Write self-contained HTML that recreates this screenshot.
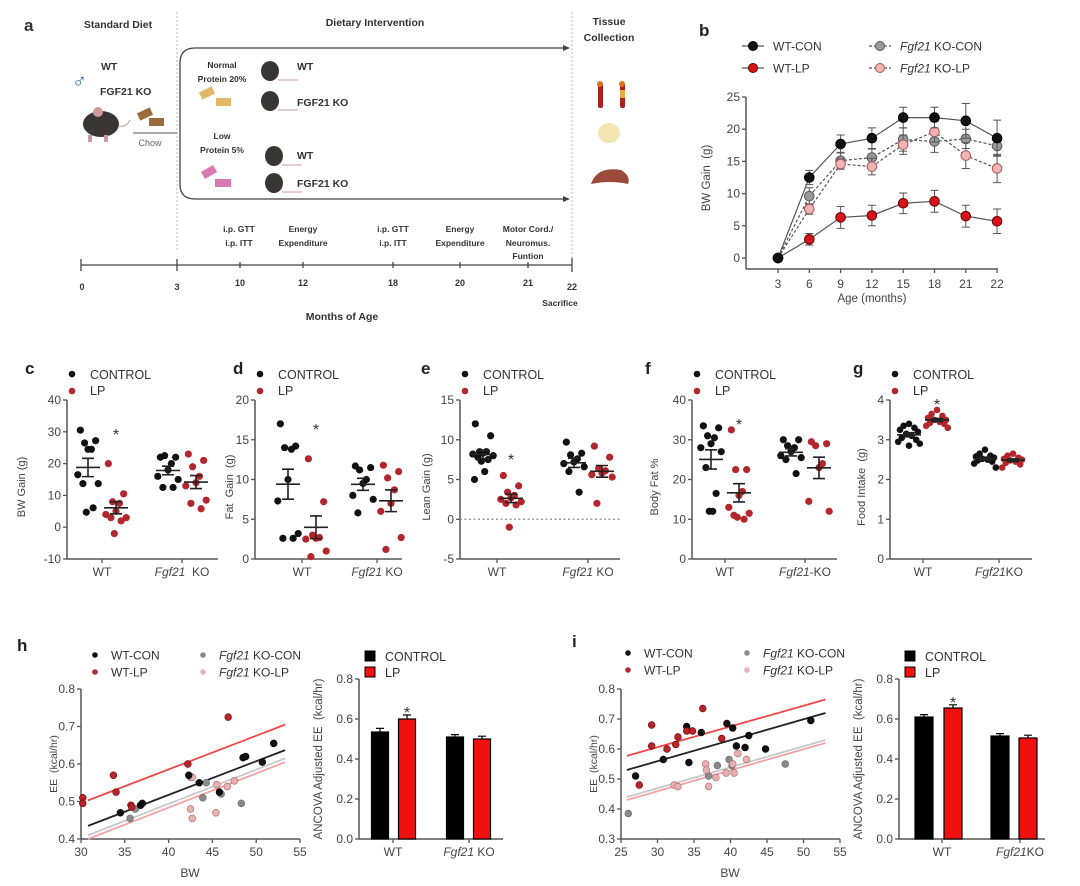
<!DOCTYPE html>
<html><head><meta charset="utf-8"><style>
html,body{margin:0;padding:0;background:#fff}
svg{display:block;font-family:"Liberation Sans",sans-serif}
</style></head><body>
<svg id="fig" width="1080" height="886" viewBox="0 0 1080 886">
<!-- Panel a: schematic -->
<g id="pa" fill="#333">
  <text x="24" y="31" font-size="17" font-weight="bold">a</text>
  <text x="118" y="28" font-size="10.5" font-weight="bold" text-anchor="middle">Standard Diet</text>
  <text x="375" y="26" font-size="10.5" font-weight="bold" text-anchor="middle">Dietary Intervention</text>
  <text x="609" y="25" font-size="10.5" font-weight="bold" text-anchor="middle">Tissue</text>
  <text x="609" y="41" font-size="10.5" font-weight="bold" text-anchor="middle">Collection</text>
  <line x1="177" y1="12" x2="177" y2="250" stroke="#bbb" stroke-dasharray="2,2"/>
  <line x1="572" y1="12" x2="572" y2="262" stroke="#bbb" stroke-dasharray="2,2"/>
  <path d="M566,48 H195 Q180,48 180,63 V184 Q180,199 195,199 H566" fill="none" stroke="#444" stroke-width="1.3"/>
  <polygon points="570,48 563,45 563,51" fill="#444"/>
  <polygon points="570,199 563,196 563,202" fill="#444"/>
  <text x="72" y="88" font-size="20" fill="#3a6ab0">♂</text>
  <text x="101" y="70" font-size="10.5" font-weight="bold">WT</text>
  <text x="100" y="95" font-size="10.5" font-weight="bold">FGF21 KO</text>
  <g>
    <ellipse cx="101" cy="124" rx="18" ry="13" fill="#3a3535"/><circle cx="98" cy="112" r="5" fill="#c99"/><path d="M118,126 q8,2 12,-6" stroke="#c99" fill="none"/>
    <rect x="88" y="135" width="4" height="7" fill="#c99"/><rect x="104" y="135" width="4" height="7" fill="#c99"/>
  </g>
  <rect x="138" y="110" width="14" height="8" fill="#9b6a3a" transform="rotate(-25 145 114)"/>
  <rect x="149" y="118" width="15" height="8" fill="#9b6a3a"/>
  <line x1="133" y1="133" x2="177" y2="133" stroke="#555"/>
  <text x="150" y="146" font-size="9" fill="#666" text-anchor="middle">Chow</text>
  <text x="222" y="68" font-size="8.5" font-weight="bold" text-anchor="middle">Normal</text>
  <text x="222" y="82" font-size="8.5" font-weight="bold" text-anchor="middle">Protein 20%</text>
  <rect x="200" y="89" width="14" height="8" fill="#e2b76a" transform="rotate(-25 207 93)"/>
  <rect x="216" y="98" width="15" height="8" fill="#e2b76a"/>
  <text x="222" y="139" font-size="8.5" font-weight="bold" text-anchor="middle">Low</text>
  <text x="222" y="153" font-size="8.5" font-weight="bold" text-anchor="middle">Protein 5%</text>
  <rect x="202" y="168" width="14" height="8" fill="#d77ab0" transform="rotate(-30 209 172)"/>
  <rect x="215" y="179" width="16" height="8" fill="#d77ab0"/>
  <g fill="#3a3535">
    <ellipse cx="270" cy="71" rx="9" ry="10"/><ellipse cx="270" cy="101" rx="9" ry="10"/><ellipse cx="274" cy="156" rx="9" ry="10"/><ellipse cx="274" cy="183" rx="9" ry="10"/>
  </g>
  <g stroke="#c99" fill="none">
    <path d="M278,80 h20"/><path d="M278,110 h20"/><path d="M282,165 h20"/><path d="M282,192 h20"/>
  </g>
  <text x="297" y="70" font-size="10.5" font-weight="bold">WT</text>
  <text x="297" y="106" font-size="10.5" font-weight="bold">FGF21 KO</text>
  <text x="297" y="159" font-size="10.5" font-weight="bold">WT</text>
  <text x="297" y="187" font-size="10.5" font-weight="bold">FGF21 KO</text>
  <g>
    <rect x="598" y="84" width="5" height="24" rx="2" fill="#a82020"/><rect x="620" y="84" width="5" height="24" rx="2" fill="#a82020"/>
    <rect x="620" y="90" width="5" height="8" fill="#e0b040"/>
    <circle cx="600" cy="84" r="3" fill="#e07020"/><circle cx="622" cy="84" r="3" fill="#e07020"/>
    <ellipse cx="609" cy="133" rx="11" ry="10" fill="#f4e6b0"/>
    <path d="M591,184 q6,-18 30,-14 q10,6 7,14 q-18,-4 -37,0z" fill="#9c4a3a"/>
  </g>
  <line x1="81" y1="265" x2="572" y2="265" stroke="#444" stroke-width="1.3"/>
  <g stroke="#444" stroke-width="1.3">
    <line x1="81" y1="259" x2="81" y2="271"/><line x1="177" y1="259" x2="177" y2="271"/><line x1="240" y1="262" x2="240" y2="268"/><line x1="303" y1="262" x2="303" y2="268"/><line x1="393" y1="262" x2="393" y2="268"/><line x1="460" y1="262" x2="460" y2="268"/><line x1="528" y1="262" x2="528" y2="268"/><line x1="572" y1="258" x2="572" y2="272"/>
  </g>
  <g font-size="9" font-weight="bold" text-anchor="middle">
    <text x="82" y="290">0</text><text x="177" y="290">3</text><text x="240" y="286">10</text><text x="303" y="286">12</text><text x="393" y="286">18</text><text x="460" y="286">20</text><text x="528" y="286">21</text><text x="572" y="290">22</text>
    <text x="560" y="306" font-size="8.5">Sacrifice</text>
    <text x="342" y="320" font-size="10.5">Months of Age</text>
  </g>
  <g font-size="8.5" font-weight="bold" text-anchor="middle">
    <text x="239" y="232">i.p. GTT</text><text x="239" y="246">i.p. ITT</text>
    <text x="303" y="232">Energy</text><text x="303" y="246">Expenditure</text>
    <text x="393" y="232">i.p. GTT</text><text x="393" y="246">i.p. ITT</text>
    <text x="460" y="232">Energy</text><text x="460" y="246">Expenditure</text>
    <text x="528" y="232">Motor Cord./</text><text x="528" y="246">Neuromus.</text><text x="528" y="259">Funtion</text>
  </g>
</g>
</svg>
<script>
// ---------- DATA ----------
const bAges = ["3","6","9","12","15","18","21","22"];
const bWtCon = [0,12.5,17.7,18.6,21.8,21.8,21.3,18.6];
const bWtConErr = [0,1.1,1.4,1.6,1.6,1.6,2.7,2.8];
const bWtLp = [0,2.9,6.3,6.6,8.5,8.8,6.5,5.7];
const bWtLpErr = [0,0.9,1.7,1.6,1.6,1.7,1.7,1.9];
const bKoCon = [0,9.6,15.1,15.6,18.4,18.1,18.5,17.4];
const bKoConErr = [0,1.3,1.3,1.3,1.8,1.7,1.5,1.5];
const bKoLp = [0,7.6,14.6,14.2,17.6,19.6,15.9,13.9];
const bKoLpErr = [0,0.8,0.8,1.3,1.5,1.6,2.0,2.2];
const bTicks = [0,5,10,15,20,25];

const cWtCon = [30.5,27.2,26.5,24.5,24.5,16.5,13.7,13.7,6.1,4.7];
const cWtLp = [20,10.5,8,7.5,5,4,3,3,2,-2];
const cKoCon = [22,22,22.5,20,18,16,15,12.5,12.5];
const cKoLp = [23,21,19,16,14,13,8.5,7.5,5.8];
const dWtCon = [17,14.2,14,13.8,10,7.3,3.2,2.6,2.6];
const dWtLp = [12.6,7.2,3,2.7,2.6,2.5,1,0.3];
const dKoCon = [11.7,11.5,11.2,10,9.5,8,7.5,5.8];
const dKoLp = [11.8,11,10.2,8.7,7,6,2.7,1.2];
const eWtCon = [12,10.5,8.5,8.5,8.3,8.2,8,7.8,7.5,7.3,6,5];
const eWtLp = [5.5,4.2,3.4,3,2.7,2.5,2.2,2,1.8,-1];
const eKoCon = [9.7,8.3,8.1,7.6,7.2,7,6.6,6,3.4];
const eKoLp = [9.2,7.8,6.4,6.1,5.8,5.6,5.3,2];
const fWtCon = [33.5,33,31,30.5,29,28,27,23,16.5,12,12];
const fWtLp = [32.5,22.5,22.5,17,16,13,11.5,11,10,10.5];
const fKoCon = [30,30,28.5,28,27,26,25.5,25,21.5];
const fKoLp = [29.5,29,28.5,24,23,14.5,12];
const gWtCon = [3.4,3.35,3.3,3.25,3.2,3.15,3.1,3.05,3.0,2.95,2.9,2.85];
const gWtLp = [3.75,3.65,3.6,3.55,3.5,3.5,3.45,3.42,3.4,3.35,3.3];
const gKoCon = [2.75,2.65,2.6,2.58,2.55,2.52,2.5,2.48,2.45,2.4,2.3];
const gKoLp = [2.65,2.6,2.55,2.52,2.5,2.48,2.45,2.42,2.38,2.3];
const starVals = [30,16.6,7.8,34.5,3.95];

const hWtConX=[34.5,36.8,37,42.3,43.5,45.8,48.5,48.8,50.7,52];
const hWtConY=[0.47,0.49,0.495,0.57,0.55,0.525,0.617,0.62,0.605,0.655];
const hWtLpX=[30.2,30.2,33.7,34,35.7,35.8,42.2,46.8];
const hWtLpY=[0.51,0.495,0.57,0.525,0.49,0.485,0.60,0.725];
const hKoConX=[35.6,36.2,43.9,44.3,46,48.3,42.5];
const hKoConY=[0.455,0.48,0.51,0.55,0.52,0.495,0.565];
const hKoLpX=[42.5,42.7,45.4,45.5,46.7,47.5,42.7];
const hKoLpY=[0.48,0.455,0.47,0.545,0.54,0.555,0.565];
const hLineX=[30.8,53.3];
const hLineWtCon=[0.435,0.637], hLineWtLp=[0.503,0.705], hLineKoCon=[0.41,0.615], hLineKoLp=[0.40,0.605];
const hBars=[0.535,0.60,0.51,0.50], hBarErr=[0.018,0.02,0.012,0.014];

const iWtConX=[27,30.8,34,34.3,36,39.5,40.3,40.8,42,42.5,44.8,51];
const iWtConY=[0.51,0.565,0.675,0.555,0.655,0.685,0.67,0.61,0.605,0.645,0.60,0.695];
const iWtLpX=[27.5,29.2,29.2,31.3,32.5,32.8,34,34.8,36.2,38.8];
const iWtLpY=[0.48,0.68,0.61,0.60,0.615,0.64,0.66,0.66,0.735,0.635];
const iKoConX=[26,38.2,39.8,40.2,47.5,37];
const iKoConY=[0.385,0.545,0.565,0.545,0.55,0.51];
const iKoLpX=[32.3,32.8,36.6,36.7,37,38,39.4,40.3,40.5,41,42.2];
const iKoLpY=[0.48,0.475,0.55,0.53,0.475,0.505,0.52,0.55,0.52,0.585,0.565];
const iLineX=[25.8,53];
const iLineWtCon=[0.53,0.72], iLineWtLp=[0.577,0.765], iLineKoCon=[0.44,0.63], iLineKoLp=[0.43,0.62];
const iBars=[0.61,0.655,0.515,0.505], iBarErr=[0.012,0.016,0.012,0.014];

// ---------- HELPERS ----------
const NS='http://www.w3.org/2000/svg';
const svg=document.getElementById('fig');
function mk(tag,attrs,parent){const e=document.createElementNS(NS,tag);for(const k in attrs)e.setAttribute(k,attrs[k]);(parent||svg).appendChild(e);return e;}
function txt(x,y,s,attrs,parent){const e=mk('text',Object.assign({x:x,y:y},attrs||{}),parent);e.innerHTML=s;return e;}
function lin(d0,d1,r0,r1){return v=>r0+(v-d0)*(r1-r0)/(d1-d0);}
const AX='#555', TC='#444';
const RED='#b3262b', GRAY='#8a8a8a';

function grp(name){const g=mk('g',{});


return g;}

function yAxis(g,x,y,ticks,fmt,y0,y1){
  const l=mk('line',{x1:x,x2:x,y1:y0,y2:y1,stroke:AX,'stroke-width':1.5},g);
  
  
  ticks.forEach(t=>{
    const tk=mk('line',{x1:x-4,x2:x,y1:y(t),y2:y(t),stroke:AX,'stroke-width':1.3},g);
    
    
    const tl=txt(x-6,y(t)+4,fmt(t),{'font-size':12,fill:TC,'text-anchor':'end'},g);
    
    
  });
}
function xAxisLine(g,x0,x1,y){
  const l=mk('line',{x1:x0,x2:x1,y1:y,y2:y,stroke:AX,'stroke-width':1.5},g);
  
  
}
function xTick(g,x,y,label,dy){
  const tk=mk('line',{x1:x,x2:x,y1:y,y2:y+4,stroke:AX,'stroke-width':1.3},g);
  
  
  const tl=txt(x,y+(dy||17),label,{'font-size':12,fill:TC,'text-anchor':'middle'},g);
  
  
}
function yTitle(g,x,y,s,size){
  const t=txt(x,y,s,{'font-size':size||11,fill:TC,'text-anchor':'middle',transform:`rotate(-90 ${x} ${y})`},g);
  
  
}
function letter(x,y,s){
  const t=txt(x,y,s,{'font-size':17,'font-weight':'bold',fill:'#222'});
  
  
}

// ---------- PANEL B ----------
(function(){
  letter(699,36,'b');
  const g=grp('panel-b-bw-gain-line-chart');
  const y=lin(0,25,258,97);
  const x=i=>778+i*31.3;
  yAxis(g,746,y,bTicks,t=>t,269,97);
  xAxisLine(g,746,998,269);
  bAges.forEach((a,i)=>xTick(g,x(i),269,a,19));
  const xt=txt(872,302,'Age (months)',{'font-size':11.5,fill:TC,'text-anchor':'middle'},g);
  
  
  yTitle(g,710,178,'BW Gain&#160;&#160;(g)',11.5);
  const series=[
    {v:bKoCon,e:bKoConErr,fill:'#9a9a9a',stroke:'#555',dash:'3,2',name:'ko-con'},
    {v:bKoLp,e:bKoLpErr,fill:'#f2b3b3',stroke:'#a55',dash:'3,2',name:'ko-lp'},
    {v:bWtLp,e:bWtLpErr,fill:'#d4151b',stroke:'#6a0000',dash:'',name:'wt-lp'},
    {v:bWtCon,e:bWtConErr,fill:'#111',stroke:'#000',dash:'',name:'wt-con'}];
  series.forEach(s=>{
    const sg=mk('g',{},g);
    
    
    const p=mk('path',{d:s.v.map((v,i)=>(i?'L':'M')+x(i)+','+y(v)).join(''),fill:'none',stroke:'#555','stroke-width':1.2,'stroke-dasharray':s.dash},sg);
    
    
    s.v.forEach((v,i)=>{
      if(s.e[i]>0){
        const eb=mk('path',{d:`M${x(i)},${y(v-s.e[i])}V${y(v+s.e[i])}M${x(i)-4},${y(v-s.e[i])}h8M${x(i)-4},${y(v+s.e[i])}h8`,stroke:'#555','stroke-width':1,fill:'none'},sg);
        
        
      }
      const c=mk('circle',{cx:x(i),cy:y(v),r:4.8,fill:s.fill,stroke:s.stroke,'stroke-width':1},sg);
      
      
    });
  });
  const leg=[[753,46,'#111','#000','','WT-CON'],[753,68,'#d4151b','#6a0000','','WT-LP'],[880,46,'#9a9a9a','#555','3,2','<tspan font-style="italic">Fgf21</tspan> KO-CON'],[880,68,'#f2b3b3','#a55','3,2','<tspan font-style="italic">Fgf21</tspan> KO-LP']];
  leg.forEach(l=>{
    const lg=mk('g',{},g);
    
    
    mk('line',{x1:l[0]-11,x2:l[0]+11,y1:l[1],y2:l[1],stroke:'#555','stroke-width':1.2,'stroke-dasharray':l[4]},lg);
    mk('circle',{cx:l[0],cy:l[1],r:4.5,fill:l[2],stroke:l[3]},lg);
    txt(l[0]+20,l[1]+4.5,l[5],{'font-size':12,fill:'#333'},lg);
  });
})();

// ---------- PANELS C-G ----------
const offs=[-9,9,-4,4,0,-12,12,-6,6,-2,2,-10];
const offsG=[0,-6,6,-10,10,-3,3,-8,8,-12,12,0];
function dotPanel(cfg){
  letter(cfg.lx,374,cfg.letter);
  const g=grp('panel-'+cfg.letter+'-dot-plot');
  const y=lin(cfg.min,cfg.max,559,400);
  yAxis(g,cfg.ax,y,cfg.ticks,t=>t,559,400);
  xAxisLine(g,cfg.ax,cfg.right,559);
  xTick(g,cfg.wt,559,'WT');
  xTick(g,cfg.ko,559,cfg.koLabel);
  yTitle(g,cfg.tx,487,cfg.title);
  if(cfg.zero){const z=mk('line',{x1:cfg.ax,x2:cfg.right,y1:y(0),y2:y(0),stroke:'#888','stroke-dasharray':'2,2.5','stroke-width':1.3},g);
    
    }
  const groups=[[cfg.data[0],cfg.wt-14,'#111','wt-control'],[cfg.data[1],cfg.wt+14,RED,'wt-lp'],[cfg.data[2],cfg.ko-14,'#111','ko-control'],[cfg.data[3],cfg.ko+14,RED,'ko-lp']];
  const o=cfg.small?offsG:offs;
  groups.forEach(gr=>{
    const arr=gr[0];
    arr.forEach((v,i)=>{
      const c=mk('circle',{cx:gr[1]+o[i%o.length]*(cfg.small?0.9:0.85),cy:y(v),r:cfg.small?3.3:3.6,fill:gr[2]},g);
      
      
    });
    const m=arr.reduce((a,b)=>a+b,0)/arr.length;
    const sd=Math.sqrt(arr.reduce((a,b)=>a+(b-m)*(b-m),0)/(arr.length-1));
    const se=sd/Math.sqrt(arr.length);
    const x=gr[1];
    const ms=mk('path',{d:`M${x-12},${y(m)}h24M${x},${y(m-se)}V${y(m+se)}M${x-6},${y(m-se)}h12M${x-6},${y(m+se)}h12`,stroke:'#222','stroke-width':1.6,fill:'none'},g);
    
    
  });
  const st=txt(cfg.wt+14,y(cfg.star)+8,'*',{'font-size':16,fill:'#333','text-anchor':'middle'},g);
  
  
  const lx=cfg.ax+5;
  const l1=mk('g',{},g);
  
  
  mk('circle',{cx:lx,cy:374,r:3.3,fill:'#111'},l1);
  txt(lx+18,379,'CONTROL',{'font-size':12.5,fill:'#333'},l1);
  const l2=mk('g',{},g);
  
  
  mk('circle',{cx:lx,cy:391,r:3.3,fill:RED},l2);
  txt(lx+18,395,'LP',{'font-size':12.5,fill:'#333'},l2);
}
const KO='<tspan font-style="italic">Fgf21</tspan>';
dotPanel({letter:'c',lx:25,ax:67,right:218,wt:102,ko:182,min:-10,max:40,ticks:[-10,0,10,20,30,40],title:'BW Gain (g)',tx:25,koLabel:KO+'&#160;&#160;KO',data:[cWtCon,cWtLp,cKoCon,cKoLp],star:starVals[0]});
dotPanel({letter:'d',lx:233,ax:255,right:402,wt:302,ko:377,min:0,max:20,ticks:[0,5,10,15,20],title:'Fat&#160;&#160;Gain&#160;&#160;(g)',tx:233,koLabel:KO+' KO',data:[dWtCon,dWtLp,dKoCon,dKoLp],star:starVals[1]});
dotPanel({letter:'e',lx:421,ax:460,right:620,wt:497,ko:588,min:-5,max:15,ticks:[-5,0,5,10,15],title:'Lean Gain (g)',tx:430,koLabel:KO+' KO',data:[eWtCon,eWtLp,eKoCon,eKoLp],star:starVals[2],zero:true});
dotPanel({letter:'f',lx:645,ax:692,right:837,wt:725,ko:805,min:0,max:40,ticks:[0,10,20,30,40],title:'Body Fat %',tx:658,koLabel:KO+'-KO',data:[fWtCon,fWtLp,fKoCon,fKoLp],star:starVals[3]});
dotPanel({letter:'g',lx:853,ax:890,right:1032,wt:923,ko:999,min:0,max:4,ticks:[0,1,2,3,4],title:'Food Intake&#160;&#160;(g)',tx:865,koLabel:KO+'KO',data:[gWtCon,gWtLp,gKoCon,gKoLp],star:starVals[4],small:true});

// ---------- PANELS H, I ----------
function scatterPanel(c){
  const g=grp('panel-'+c.letter+'-ee-scatter');
  const x=lin(c.xmin,c.xmax,c.ax,c.ax+219);
  const y=lin(c.ymin,0.8,839,689);
  yAxis(g,c.ax,y,c.yt,t=>t.toFixed(1),839,689);
  xAxisLine(g,c.ax,c.ax+219,839);
  c.xt.forEach(t=>xTick(g,x(t),839,String(t)));
  const bt=txt(c.ax+109,877,'BW',{'font-size':12,fill:TC,'text-anchor':'middle'},g);
  
  
  yTitle(g,c.ax-24,764,'EE&#160;&#160;(kcal/hr)',10.5);
  const lines=[[c.lKoLp,'#f3a3a3'],[c.lKoCon,'#c8c8c8'],[c.lWtCon,'#222'],[c.lWtLp,'#f04848']];
  lines.forEach(l=>{
    const ln=mk('line',{x1:x(c.lx[0]),x2:x(c.lx[1]),y1:y(l[0][0]),y2:y(l[0][1]),stroke:l[1],'stroke-width':1.8},g);
    
    
  });
  const pts=[[c.kcX,c.kcY,GRAY,'#666','ko-con'],[c.klX,c.klY,'#e8b0b0','#b06060','ko-lp'],[c.wcX,c.wcY,'#111','#000','wt-con'],[c.wlX,c.wlY,RED,'#700','wt-lp']];
  pts.forEach(p=>p[0].forEach((v,i)=>{
    const cc=mk('circle',{cx:x(v),cy:y(p[1][i]),r:3.4,fill:p[2],stroke:p[3],'stroke-width':0.6},g);
    
    
  }));
  const leg=[[c.lgx,c.lgy,'#111','WT-CON'],[c.lgx,c.lgy+17,RED,'WT-LP'],[c.lgx2,c.lgy,GRAY,KO+' KO-CON'],[c.lgx2,c.lgy+17,'#e8b0b0',KO+' KO-LP']];
  leg.forEach(l=>{
    const lg=mk('g',{},g);
    
    
    mk('circle',{cx:l[0],cy:l[1],r:2.8,fill:l[2]},lg);
    txt(l[0]+16,l[1]+4.5,l[3],{'font-size':12,fill:'#333'},lg);
  });
}
function barPanel(c){
  const g=grp('panel-'+c.letter+'-ancova-bar-chart');
  const y=lin(0,0.8,839,679);
  yAxis(g,c.ax,y,[0,0.2,0.4,0.6,0.8],t=>t.toFixed(1),839,679);
  xAxisLine(g,c.ax,c.right,839);
  xTick(g,c.wt,839,'WT');
  xTick(g,c.ko,839,c.koLabel);
  yTitle(g,c.ax-37,759,'ANCOVA Adjusted EE&#160;&#160;(kcal/hr)',11.5);
  c.vals.forEach((v,i)=>{
    const cx=c.cx[i];
    const b=mk('rect',{x:cx-c.w/2,y:y(v),width:c.w,height:839-y(v),fill:i%2?'#f01010':'#000',stroke:'#000','stroke-width':1.2},g);
    
    
    const e=mk('path',{d:`M${cx},${y(v)}V${y(v+c.err[i])}M${cx-4},${y(v+c.err[i])}h8`,stroke:'#000','stroke-width':1.2},g);
    
    
  });
  const st=txt(c.cx[1],y(c.vals[1]+c.err[1])+3,'*',{'font-size':16,fill:'#333','text-anchor':'middle'},g);
  
  
  [['#000','CONTROL',656],['#f01010','LP',672]].forEach(l=>{
    const lg=mk('g',{},g);
    
    
    mk('rect',{x:c.lgx-5,y:l[2]-5,width:10,height:10,fill:l[0],stroke:'#000'},lg);
    txt(c.lgx+15,l[2]+5,l[1],{'font-size':12.5,fill:'#333'},lg);
  });
}
letter(17,651,'h');
scatterPanel({letter:'h',ax:81,xmin:30,xmax:55,ymin:0.4,yt:[0.4,0.5,0.6,0.7,0.8],xt:[30,35,40,45,50,55],
  wcX:hWtConX,wcY:hWtConY,wlX:hWtLpX,wlY:hWtLpY,kcX:hKoConX,kcY:hKoConY,klX:hKoLpX,klY:hKoLpY,
  lx:hLineX,lWtCon:hLineWtCon,lWtLp:hLineWtLp,lKoCon:hLineKoCon,lKoLp:hLineKoLp,lgx:95,lgy:655,lgx2:203});
barPanel({letter:'h',ax:359,right:503,wt:393,ko:469,cx:[380,407,455,482],w:17,vals:hBars,err:hBarErr,lgx:370,koLabel:KO+' KO'});
letter(572,647,'i');
scatterPanel({letter:'i',ax:621,xmin:25,xmax:55,ymin:0.3,yt:[0.3,0.4,0.5,0.6,0.7,0.8],xt:[25,30,35,40,45,50,55],
  wcX:iWtConX,wcY:iWtConY,wlX:iWtLpX,wlY:iWtLpY,kcX:iKoConX,kcY:iKoConY,klX:iKoLpX,klY:iKoLpY,
  lx:iLineX,lWtCon:iLineWtCon,lWtLp:iLineWtLp,lKoCon:iLineKoCon,lKoLp:iLineKoLp,lgx:628,lgy:653,lgx2:747});
barPanel({letter:'i',ax:899,right:1045,wt:942,ko:1020,cx:[924,953,1000,1028],w:18,vals:iBars,err:iBarErr,lgx:910,koLabel:KO+'KO'});
</script>
</body></html>
